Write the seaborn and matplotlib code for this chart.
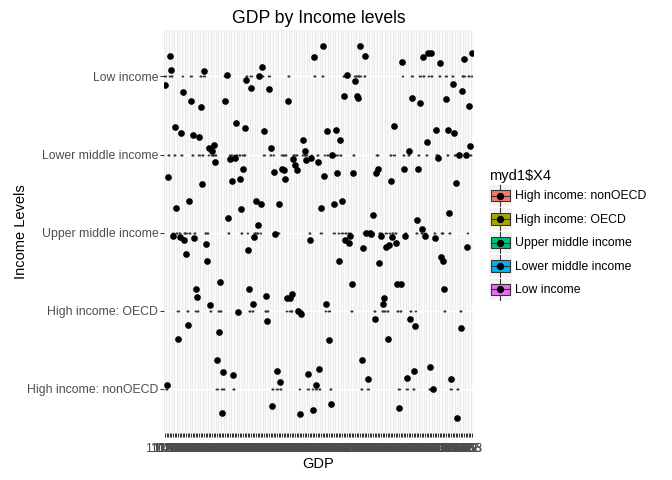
import numpy as np
import pandas as pd
import matplotlib
matplotlib.use("Agg")
import matplotlib.pyplot as plt
import matplotlib.patches as mpatches
from matplotlib.lines import Line2D
from matplotlib.legend_handler import HandlerBase
import seaborn as sns

# ---------------- data ----------------
level_names = ["High income: nonOECD", "High income: OECD", "Upper middle income",
               "Lower middle income", "Low income"]
level_colors = ["#F8766D", "#A3A500", "#00BF7D", "#00B0F6", "#E76BF3"]

gdp_labels = """
110136 1129 11345 114151 116 11745 12008 12219 124096 1250 12807 13255 133019 13444 13797
1402 14044 14305 14592 1473 150 15134 15654 16053 16244600 16434 167 1680 17231 17543 180
18113 18434 1869 189 1918 1919 19497 196
2014 20263 20497 211 21240 218 22390 22849 2296 2322 23375 2403 24451 2461 247546 25058
25307 2612878 262832 26665 2728 27938 28 28243 2851 29044
30097 3032 31213 3159 322 32351 3294 33067 3354 34261 3492 35334 3570 36145 367 3770 38207 3883 3919
40 40578 41 4134 41946 4264 43582 4420 45279 4557 46 4746 47920 4863 49360
50234 5102 51264 5211 53 5300 54353 5471 55735 5622 5752 58 58769 5906 596
60135 6052 6125 6233 62343 6318 6369 64 64886 6555 6592 6600 67 6723 6836 68378 6900 6960 69600
7103 71211 7186 72099 72532 7298 73 7392 74 74620 7484 75 7553 76 7684 78 7843 7888 79
8100 81 8174 82 8222 8308 8367 84 8464 85 8631 87 8718 881 8815 8879 89 8930 8982
9013 90 9144 91 9281 93 9374 94 9508 95 9602 96 9656 97 9772 98 9863 99 985
""".split()

# position along the GDP axis (category units) and vertical jitter, per income level
low_x = [3.6, 4.8, 25.0, 38.4, 61.4, 93.0, 58.9, 51.4, 0.5, 11.7, 53.9, 65.1, 16.6, 37.8, 77.5,
         22.9, 98.6, 121.6, 125.3, 147.1, 159.5, 163.2, 165.1, 170.7, 184.3, 189.3, 114.2, 118.5,
         177.5, 183.7, 111.7, 119.1, 121.0, 153.3, 158.3, 173.2, 187.4]
low_j = [0.26, 0.08, 0.07, 0.02, 0.12, 0.25, 0.00, -0.04, -0.11, -0.20, -0.15, -0.16, -0.32, -0.31,
         -0.32, -0.39, 0.39, 0.39, 0.26, 0.18, 0.25, 0.30, 0.30, 0.17, 0.22, 0.30, 0.02, -0.06,
         -0.10, -0.19, -0.25, -0.25, -0.28, -0.28, -0.34, -0.29, -0.38]

lm_x = [6.7, 10.4, 17.9, 22.2, 44.6, 50.2, 62.0, 86.8, 27.8, 29.7, 31.3, 65.7, 87.4, 32.0, 40.9,
        44.0, 48.9, 80.6, 81.2, 88.7, 91.2, 95.5, 2.4, 23.5, 42.1, 47.1, 68.2, 73.8, 74.4, 82.5,
        75.7, 101.7, 106.1, 109.8, 142.1, 168.2, 174.4, 178.1, 162.0, 188.7, 150.8, 104.8, 169.4,
        181.2, 185.0, 99.3, 107.3, 117.3, 130.9, 132.2, 148.3, 157.6, 140.2, 179.4]
lm_j = [0.35, 0.27, 0.25, 0.22, 0.40, 0.34, 0.30, 0.19, 0.08, 0.05, 0.12, 0.08, 0.04, -0.09, -0.06,
        -0.04, -0.18, -0.06, -0.14, -0.07, -0.04, -0.10, -0.29, -0.38, -0.34, -0.32, -0.22, -0.18,
        -0.20, -0.20, -0.31, 0.30, 0.32, 0.18, 0.36, 0.31, 0.32, 0.28, 0.16, 0.11, 0.05, -0.01,
        -0.04, -0.01, -0.01, -0.27, -0.24, -0.24, -0.24, -0.19, -0.19, -0.19, -0.34, -0.36]

um_x = [7.3, 15.4, 57.0, 60.1, 71.3, 48.3, 40.2, 58.3, 97.4, 106.1, 110.4, 129.1, 175.0, 155.8,
        159.5, 5.5, 9.8, 12.3, 18.9, 25.6, 13.5, 27.2, 52.0, 56.4, 69.4, 90.6, 126.0, 127.8, 128.7,
        115.4, 112.3, 114.8, 133.4, 140.9, 148.9, 161.4, 167.6, 124.1, 137.1, 139.0, 143.4, 186.2,
        108.6, 132.8, 171.9, 172.3]
um_j = [0.32, 0.40, 0.40, 0.37, 0.37, 0.30, 0.19, 0.09, 0.31, 0.37, 0.40, 0.23, 0.25, 0.16, 0.04,
        -0.04, -0.06, -0.09, -0.07, -0.15, -0.28, -0.37, -0.22, -0.06, -0.02, -0.09, 0.00, -0.01,
        -0.02, -0.05, -0.09, -0.14, -0.04, -0.06, -0.05, -0.04, -0.07, -0.20, -0.18, -0.16, -0.14,
        -0.19, -0.36, -0.39, -0.32, -0.36]

oe_x = [34.7, 19.4, 21.0, 53.3, 29.1, 54.5, 63.8, 76.3, 78.8, 79.2, 45.8, 83.7, 85.6, 14.2, 8.6,
        34.0, 64.5, 116.6, 144.0, 145.8, 172.5, 135.9, 134.6, 100.5, 129.7, 152.0, 155.1, 182.5,
        102.4, 138.4]
oe_j = [0.37, 0.27, 0.17, 0.28, 0.07, 0.09, 0.19, 0.16, 0.16, 0.21, -0.02, -0.01, -0.05, -0.19,
        -0.36, -0.27, -0.13, 0.34, 0.34, 0.34, 0.27, 0.16, 0.09, 0.08, -0.11, -0.11, -0.20, -0.22,
        -0.38, -0.36]

no_x = [32.8, 36.5, 42.7, 70.7, 71.9, 89.9, 96.1, 1.7, 94.3, 66.9, 35.9, 84.3, 92.4, 122.2, 164.4,
        153.9, 126.6, 150.2, 176.3, 166.3, 103.6, 145.2, 180.6]
no_j = [0.36, 0.21, 0.17, 0.23, 0.09, 0.19, 0.25, 0.05, 0.05, -0.22, -0.32, -0.33, -0.28, 0.37,
        0.27, 0.22, 0.12, 0.13, 0.12, 0.00, -0.20, -0.25, -0.38]

# ---------------- table ----------------
rows = []
for name, xs, js in zip(level_names, [no_x, oe_x, um_x, lm_x, low_x],
                        [no_j, oe_j, um_j, lm_j, low_j]):
    for x, j in zip(xs, js):
        rows.append((x, name, j))
df = pd.DataFrame(rows, columns=["xpos", "income", "jit"])
df = df.sort_values("xpos", kind="mergesort").reset_index(drop=True)
assert len(df) == len(gdp_labels) == len(set(gdp_labels))
df["gdp"] = gdp_labels
df["level"] = df["income"].map({n: i + 1 for i, n in enumerate(level_names)})
df["y"] = df["level"] + df["jit"]

# ---------------- figure ----------------
plt.rcParams["font.family"] = ["Liberation Sans", "DejaVu Sans"]
fig = plt.figure(figsize=(7, 5), dpi=96)
W, H = 672, 480
L, R, T, B = 164, 473, 30, 433
ax = fig.add_axes([L / W, 1 - B / H, (R - L) / W, (B - T) / H])
ax.set_facecolor("#EBEBEB")

sns.boxplot(data=df, x="gdp", y="level", order=gdp_labels, fill=False, color="#333333",
            linewidth=1.0, width=0.75, showfliers=False, ax=ax, zorder=2)
sns.stripplot(data=df, x="gdp", y="y", order=gdp_labels, jitter=False, color="black",
              size=5, linewidth=0, ax=ax, zorder=3)

n = len(gdp_labels)
ax.set_xlim(-0.6, n - 1 + 0.6)
ax.set_ylim(0.43, 5.596)
ax.set_yticks(range(1, 6))
ax.set_yticklabels(level_names)
ax.set_axisbelow(True)
ax.grid(axis="x", color="white", lw=0.6)
ax.grid(axis="y", color="white", lw=1.1)
for s in ax.spines.values():
    s.set_visible(False)
ax.tick_params(axis="both", length=2.75, width=0.8, color="#333333",
               labelcolor="#4D4D4D", labelsize=9.2, pad=1.5)
ax.tick_params(axis="x", pad=4.5)
for t in ax.get_xticklabels():
    t.set_rotation(0)

ax.set_title("GDP by Income levels", fontsize=13.2, pad=5)
ax.set_xlabel("GDP", fontsize=11)
ax.set_ylabel("Income Levels", fontsize=11)
ax.xaxis.set_label_coords(0.5, -(457 - B) / (B - T))
ax.yaxis.set_label_coords(-(L - 27.5) / (R - L), 0.5)


class BoxKey(HandlerBase):
    def create_artists(self, legend, orig_handle, xdescent, ydescent, width, height,
                       fontsize, trans):
        x0, y0 = -xdescent, -ydescent
        cx, cy = x0 + width / 2, y0 + height / 2
        fc = orig_handle.get_facecolor()
        bg = mpatches.Rectangle((x0, y0), width, height, facecolor="#F2F2F2",
                                edgecolor="none", transform=trans)
        wh = Line2D([cx, cx], [y0, y0 + height], color="#333333", lw=0.8, transform=trans)
        bw, bh = width * 0.85, height * 0.53
        box = mpatches.Rectangle((cx - bw / 2, cy - bh / 2), bw, bh, facecolor=fc,
                                 edgecolor="#333333", lw=0.8, transform=trans)
        med = Line2D([cx - bw / 2, cx + bw / 2], [cy, cy], color="#333333", lw=0.8,
                     transform=trans)
        dot = Line2D([cx], [cy], marker="o", ms=4.5, color="black", lw=0, transform=trans)
        return [bg, wh, box, med, dot]


handles = [mpatches.Patch(facecolor=c, label=nm) for nm, c in zip(level_names, level_colors)]
fig.legend(handles=handles, title="myd1$X4", loc="upper left",
           bbox_to_anchor=(489 / W, 1 - 169 / H), frameon=False, fontsize=9.2,
           title_fontsize=11, handlelength=1.85, handleheight=2.35, labelspacing=0.14,
           handletextpad=0.3, borderpad=0, borderaxespad=0, alignment="left",
           handler_map={mpatches.Patch: BoxKey()})

fig.savefig("out.png", dpi=96)
